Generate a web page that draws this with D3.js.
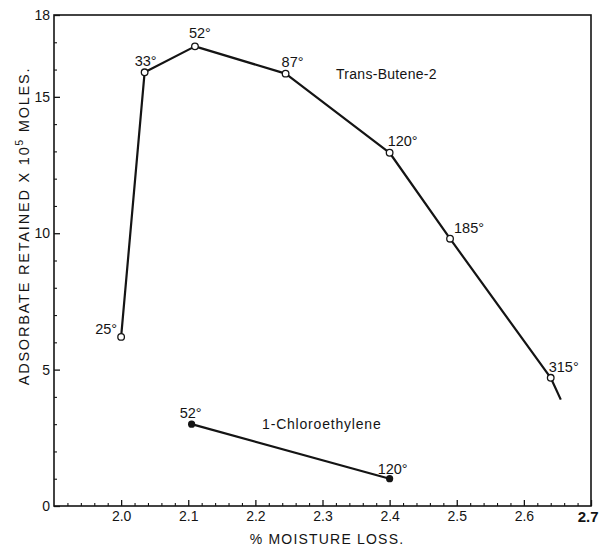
<!DOCTYPE html>
<html>
<head>
<meta charset="utf-8">
<script src="https://cdn.jsdelivr.net/npm/d3@7"></script>
<style>
  body { margin: 0; background: #fff; }
  text { font-family: "Liberation Sans", Arial, sans-serif; fill: #141414; }
</style>
</head>
<body>
<svg id="chart" width="599" height="549"></svg>
<script>
// Trans-Butene-2: % moisture loss vs adsorbate retained (x 10^5 moles), by activation temperature
const buteneMoisture = [2.00, 2.035, 2.11, 2.245, 2.40, 2.49, 2.64];
const buteneRetained = [6.2, 15.9, 16.85, 15.85, 12.95, 9.8, 4.7];
const buteneTemps    = ["25°", "33°", "52°", "87°", "120°", "185°", "315°"];
// the fitted line runs on a little past the last measured point
const buteneTailMoisture = [2.655];
const buteneTailRetained = [3.9];

// 1-Chloroethylene
const chloroMoisture = [2.105, 2.40];
const chloroRetained = [3.0, 1.0];
const chloroTemps    = ["52°", "120°"];

// axis ticks
const xTickValues = [2.0, 2.1, 2.2, 2.3, 2.4, 2.5, 2.6, 2.7];
const xTickLabels = ["2.0", "2.1", "2.2", "2.3", "2.4", "2.5", "2.6", "2.7"];
const yTickValues = [0, 5, 10, 15, 18];
const yTickLabels = ["0", "5", "10", "15", "18"];

const svg = d3.select("#chart");
const plotLeft = 54, plotRight = 591, plotTop = 15, plotBottom = 506;

const x = d3.scaleLinear().domain([1.9, 2.7]).range([plotLeft, plotRight]);
const y = d3.scaleLinear().domain([0, 18]).range([plotBottom, plotTop]);

const ink = "#141414";

// frame
svg.append("rect")
  .attr("x", plotLeft).attr("y", plotTop)
  .attr("width", plotRight - plotLeft).attr("height", plotBottom - plotTop)
  .attr("fill", "none").attr("stroke", ink).attr("stroke-width", 1.6);

// x axis: ticks point inward (up)
const xMinor = d3.range(1.92, 2.7, 0.02).filter(v => Math.abs(v * 10 - Math.round(v * 10)) > 1e-6);
svg.append("g")
  .attr("transform", `translate(0,${plotBottom})`)
  .call(d3.axisBottom(x).tickValues(xMinor).tickSize(-3).tickFormat(""))
  .call(g => g.select(".domain").remove())
  .call(g => g.selectAll("line").attr("stroke", ink).attr("stroke-width", 1.1));

const xAxis = svg.append("g")
  .attr("transform", `translate(0,${plotBottom})`)
  .call(d3.axisBottom(x).tickValues(xTickValues).tickSize(-6).tickPadding(5)
    .tickFormat((d, i) => xTickLabels[i]))
  .call(g => g.select(".domain").remove())
  .call(g => g.selectAll("line").attr("stroke", ink).attr("stroke-width", 1.3));
xAxis.selectAll("text")
  .attr("font-size", 14).attr("fill", ink)
  .attr("font-family", "\"Liberation Sans\", Arial, sans-serif");
// last label sits inside the page edge and is set heavier
xAxis.selectAll("text").filter(d => d === 2.7)
  .attr("text-anchor", "end").attr("dx", 7)
  .attr("font-weight", "bold").attr("font-size", 15);

// y axis: ticks point inward (right)
const yMinor = d3.range(1, 18).filter(v => v % 5 !== 0);
svg.append("g")
  .attr("transform", `translate(${plotLeft},0)`)
  .call(d3.axisLeft(y).tickValues(yMinor).tickSize(-3).tickFormat(""))
  .call(g => g.select(".domain").remove())
  .call(g => g.selectAll("line").attr("stroke", ink).attr("stroke-width", 1.1));

const yAxis = svg.append("g")
  .attr("transform", `translate(${plotLeft},0)`)
  .call(d3.axisLeft(y).tickValues(yTickValues).tickSize(-6).tickPadding(4)
    .tickFormat((d, i) => yTickLabels[i]))
  .call(g => g.select(".domain").remove())
  .call(g => g.selectAll("line").attr("stroke", ink).attr("stroke-width", 1.3));
yAxis.selectAll("text")
  .attr("font-size", 14).attr("fill", ink)
  .attr("font-family", "\"Liberation Sans\", Arial, sans-serif");

// axis titles
svg.append("text")
  .attr("x", 327).attr("y", 544)
  .attr("text-anchor", "middle").attr("font-size", 14)
  .attr("letter-spacing", 1.2)
  .text("% MOISTURE  LOSS.");

const yTitle = svg.append("text")
  .attr("transform", `translate(29,226) rotate(-90)`)
  .attr("text-anchor", "middle").attr("font-size", 14.5)
  .attr("letter-spacing", 1.8);
yTitle.append("tspan").text("ADSORBATE RETAINED X 10");
yTitle.append("tspan").attr("dy", -6).attr("font-size", 10).text("5");
yTitle.append("tspan").attr("dy", 6).text("  MOLES.");

// series lines
const line = d3.line().x(d => x(d[0])).y(d => y(d[1]));

const buteneLine = buteneMoisture.map((m, i) => [m, buteneRetained[i]])
  .concat(buteneTailMoisture.map((m, i) => [m, buteneTailRetained[i]]));
svg.append("path").datum(buteneLine)
  .attr("d", line).attr("fill", "none")
  .attr("stroke", ink).attr("stroke-width", 2.2).attr("stroke-linejoin", "round");

const chloroLine = chloroMoisture.map((m, i) => [m, chloroRetained[i]]);
svg.append("path").datum(chloroLine)
  .attr("d", line).attr("fill", "none")
  .attr("stroke", ink).attr("stroke-width", 2.2);

// markers: open circles for trans-butene, filled for chloroethylene
svg.append("g").selectAll("circle")
  .data(buteneMoisture.map((m, i) => [m, buteneRetained[i]]))
  .join("circle")
  .attr("cx", d => x(d[0])).attr("cy", d => y(d[1])).attr("r", 3.3)
  .attr("fill", "#fff").attr("stroke", ink).attr("stroke-width", 1.3);

svg.append("g").selectAll("circle")
  .data(chloroLine)
  .join("circle")
  .attr("cx", d => x(d[0])).attr("cy", d => y(d[1])).attr("r", 3.6)
  .attr("fill", ink);

// temperature labels, offset from each point
const buteneLabelOffsets = [
  { dx: -4, dy: -3, anchor: "end" },
  { dx: 1, dy: -6, anchor: "middle" },
  { dx: 5, dy: -8, anchor: "middle" },
  { dx: 7, dy: -7, anchor: "middle" },
  { dx: -2, dy: -7, anchor: "start" },
  { dx: 4, dy: -6, anchor: "start" },
  { dx: -2, dy: -6, anchor: "start" }
];
svg.append("g").selectAll("text")
  .data(buteneTemps)
  .join("text")
  .attr("x", (d, i) => x(buteneMoisture[i]) + buteneLabelOffsets[i].dx)
  .attr("y", (d, i) => y(buteneRetained[i]) + buteneLabelOffsets[i].dy)
  .attr("text-anchor", (d, i) => buteneLabelOffsets[i].anchor)
  .attr("font-size", 14.5)
  .text(d => d);

const chloroLabelOffsets = [
  { dx: -1, dy: -6 },
  { dx: 3, dy: -5 }
];
svg.append("g").selectAll("text")
  .data(chloroTemps)
  .join("text")
  .attr("x", (d, i) => x(chloroMoisture[i]) + chloroLabelOffsets[i].dx)
  .attr("y", (d, i) => y(chloroRetained[i]) + chloroLabelOffsets[i].dy)
  .attr("text-anchor", "middle")
  .attr("font-size", 14.5)
  .text(d => d);

// series names
svg.append("text")
  .attr("x", x(2.32)).attr("y", y(15.65))
  .attr("font-size", 14)
  .attr("letter-spacing", 0.3)
  .text("Trans-Butene-2");

svg.append("text")
  .attr("x", x(2.21)).attr("y", y(2.82))
  .attr("font-size", 14)
  .attr("letter-spacing", 0.8)
  .text("1-Chloroethylene");
</script>
</body>
</html>
